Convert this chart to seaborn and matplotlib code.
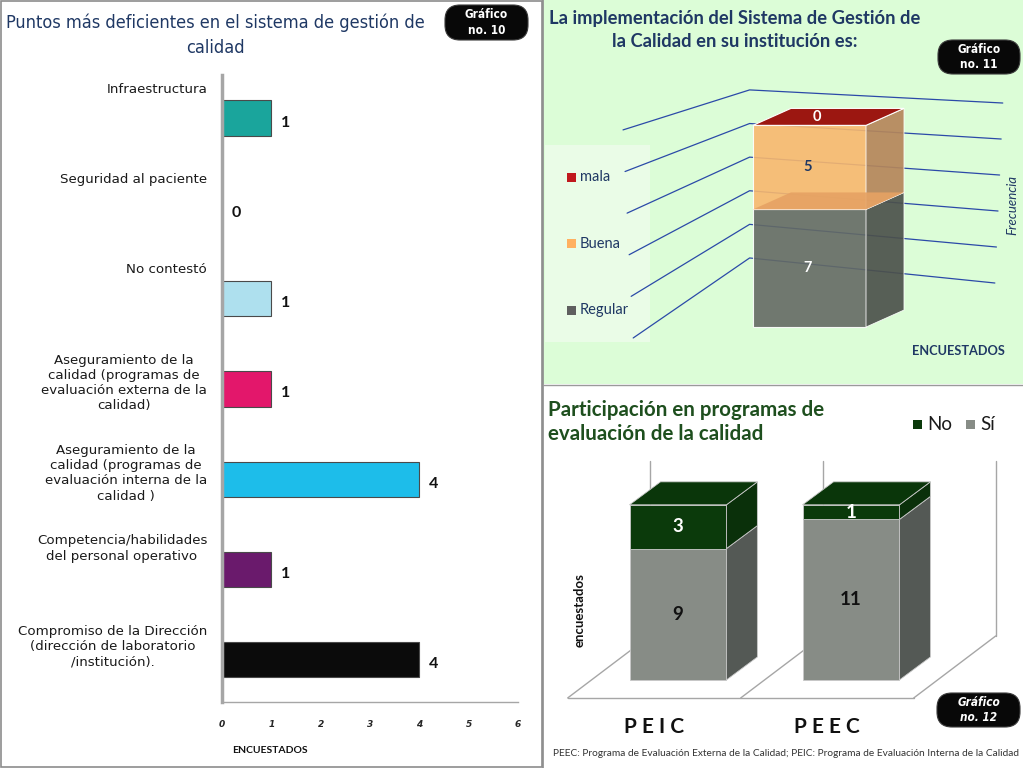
import matplotlib
matplotlib.use("Agg")
import matplotlib.pyplot as plt
from matplotlib.patches import Rectangle, FancyBboxPatch, Polygon
import seaborn as sns
import pandas as pd

# ---------------- data ----------------
g10_title = "Puntos más deficientes en el sistema de gestión de\ncalidad"
g10_categories = [
    "Infraestructura",
    "Seguridad al paciente",
    "No contestó",
    "Aseguramiento de la\ncalidad (programas de\nevaluación externa de la\ncalidad)",
    "Aseguramiento de la\ncalidad (programas de\nevaluación interna de la\ncalidad )",
    "Competencia/habilidades\ndel personal operativo",
    "Compromiso de la Dirección\n(dirección de laboratorio\n/institución).",
]
g10_values = [1, 0, 1, 1, 4, 1, 4]
g10_colors = ["#1AA59C", "#1F6F6A", "#AEE0EE", "#E3176B", "#1DBDEA", "#6A1A6C", "#0B0B0B"]
g10_xticks = [0, 1, 2, 3, 4, 5, 6]
g10_xlabel = "ENCUESTADOS"

g11_title = "La implementación del Sistema de Gestión de\nla Calidad en su institución es:"
g11_series = ["Regular", "Buena", "mala"]
g11_values = [7, 5, 0]
g11_front_colors = ["#646A64", "#F8B86E", "#9C1711"]
g11_side_colors = ["#4C514B", "#B5865A", "#7E130F"]
g11_legend_colors = ["#5F5F5F", "#FFB060", "#C0181D"]
g11_label_colors = ["#FFFFFF", "#1F3864", "#FFFFFF"]
g11_grid_levels = [2, 4, 6, 8, 10, 12]
g11_xlabel = "ENCUESTADOS"
g11_ylabel = "Frecuencia"

g12_title = "Participación en programas de\nevaluación de la calidad"
g12_categories = ["PEIC", "PEEC"]
g12_si = [9, 11]
g12_no = [3, 1]
g12_legend = ["No", "Sí"]
g12_legend_colors = ["#0B3A0B", "#878C86"]
g12_ylabel = "encuestados"
g12_wall_max = 12
g12_footer = ("PEEC: Programa de Evaluación Externa de la Calidad; "
              "PEIC: Programa de Evaluación Interna de la Calidad")

badges = ["Gráfico\nno. 10", "Gráfico\nno. 11", "Gráfico\nno. 12"]

# ---------------- setup ----------------
sns.set_theme(style="white")
plt.rcParams["font.family"] = ["Lato", "DejaVu Sans"]

W, H = 1023, 768
fig = plt.figure(figsize=(W / 100, H / 100), dpi=100)
fig.patch.set_facecolor("white")


def pax(x0, y0, x1, y1, z=1):
    a = fig.add_axes([x0 / W, 1 - y1 / H, (x1 - x0) / W, (y1 - y0) / H], zorder=z)
    a.patch.set_alpha(0)
    return a


# background canvas (pixel coordinates)
bg = fig.add_axes([0, 0, 1, 1], zorder=0)
bg.set_xlim(0, W)
bg.set_ylim(H, 0)
bg.axis("off")
bg.add_patch(Rectangle((1, 1), 541, 766, fc="white", ec="#8C8C8C", lw=1.2))
bg.add_patch(Rectangle((543, 0), 480, 384, fc="#DCFDD7", ec="none"))
bg.add_patch(Rectangle((545, 145), 105, 197, fc="#EAFCE7", ec="none"))
bg.plot([543, 543], [0, H], color="#8C8C8C", lw=1.2)
bg.plot([543, W], [384.5, 384.5], color="#9A9A9A", lw=1.0)

# overlay canvas for texts / badges
ov = fig.add_axes([0, 0, 1, 1], zorder=10)
ov.set_xlim(0, W)
ov.set_ylim(H, 0)
ov.axis("off")
ov.patch.set_alpha(0)

# ================= Gráfico 10 =================
ax1 = pax(222, 75, 518, 702)
df10 = pd.DataFrame({"cat": g10_categories, "val": g10_values})
sns.barplot(data=df10, x="val", y="cat", hue="cat", palette=g10_colors, orient="h",
            width=0.39, ax=ax1, legend=False, edgecolor="#4A4A4A", linewidth=0.8,
            saturation=1)
ax1.set_xlim(0, 6)
ax1.set_ylim(6.467, -0.476)
ax1.set_xticks(g10_xticks)
ax1.set_xticklabels([str(t) for t in g10_xticks], fontsize=6.5, fontweight="bold",
                    fontstyle="italic", family="DejaVu Sans")
ax1.set_yticks(range(len(g10_categories)))
ax1.set_yticklabels([])
ax1.tick_params(axis="both", length=0)
ax1.tick_params(axis="x", pad=13)
ax1.set_xlabel("")
ax1.set_ylabel("")
for s in ["top", "right"]:
    ax1.spines[s].set_visible(False)
ax1.spines["left"].set_color("#A6A6A6")
ax1.spines["left"].set_linewidth(2.5)
ax1.spines["bottom"].set_color("#A6A6A6")
ax1.spines["bottom"].set_linewidth(1.0)
for i, (cat, v) in enumerate(zip(g10_categories, g10_values)):
    ax1.text(-0.3, i - 0.39, cat, ha="right", va="top", multialignment="center",
             fontsize=9.6, family=["DejaVu Sans"], color="#1A1A1A", linespacing=1.22,
             clip_on=False)
    ax1.text(v + 0.2, i + 0.05, str(v), ha="left", va="center", fontsize=11.5,
             fontweight="bold", color="#111111", clip_on=False)
ax1.text(0.2, 7.0, g10_xlabel, ha="left", va="center", fontsize=7.5,
         fontweight="bold", color="#111111", clip_on=False)

ov.text(215, 35, g10_title, ha="center", va="center", fontsize=13,
        family=["DejaVu Sans"], fontstretch="condensed", color="#1F3864",
        linespacing=1.5)

# ================= Gráfico 11 =================
ax2 = pax(543, 0, 1023, 383)
ax2.set_xlim(-1.858, 2.389)
ax2.set_ylim(-3.33, 19.46)
ax2.axis("off")
dx11, dy11 = 0.336, 1.01
for v in g11_grid_levels:
    xs = [-1.06 - (v - 2) * 0.009, -0.03, 2.14 + (v - 2) * 0.007]
    ys = [-0.65 + (v - 2) * 1.238, v + 2.11, 2.62 + (v - 2) * 1.071]
    ax2.plot(xs, ys, color="#2B4AA8", lw=0.9, zorder=1)

bottom = 0
total = sum(g11_values)
for k, (name, v) in enumerate(zip(g11_series, g11_values)):
    if v > 0:
        ax2.bar(0.5, v, width=1, bottom=bottom, color=g11_front_colors[k],
                edgecolor="white", linewidth=0.8, alpha=0.9, zorder=3)
        ax2.add_patch(Polygon([(1, bottom), (1 + dx11, bottom + dy11),
                               (1 + dx11, bottom + v + dy11), (1, bottom + v)],
                              closed=True, fc=g11_side_colors[k], ec="white",
                              lw=0.6, alpha=0.92, zorder=3))
        ax2.text(0.48, bottom + v / 2, str(v), ha="center", va="center",
                 fontsize=10.5, fontweight="bold", color=g11_label_colors[k], zorder=6)
        if bottom + v < total:
            top = bottom + v
            ax2.add_patch(Polygon([(0, top), (dx11, top + dy11),
                                   (1 + dx11, top + dy11), (1, top)], closed=True,
                                  fc="#E6A263", ec="none", alpha=0.9, zorder=4))
    else:
        ax2.text(0.5 + dx11 / 2 - 0.1, total + dy11 / 2, str(v), ha="center",
                 va="center", fontsize=10.5, fontweight="bold",
                 color=g11_label_colors[k], zorder=6)
    bottom += v
ax2.add_patch(Polygon([(0, total), (dx11, total + dy11), (1 + dx11, total + dy11),
                       (1, total)], closed=True, fc=g11_front_colors[-1],
                      ec="white", lw=0.8, zorder=5))

ov.text(735, 30, g11_title, ha="center", va="center", fontsize=13.2,
        fontweight="bold", color="#1F3864", linespacing=1.38)
for k, name in enumerate(reversed(g11_series)):
    col = list(reversed(g11_legend_colors))[k]
    yk = 177 + k * 66.5
    ov.add_patch(Rectangle((567, yk - 4.5), 9, 9, fc=col, ec="none"))
    ov.text(580, yk, name, ha="left", va="center", fontsize=10.5, color="#1F3864")
ov.text(958, 351, g11_xlabel, ha="center", va="center", fontsize=9.2,
        fontweight="bold", color="#1F3864")
ov.text(1012, 205, g11_ylabel, ha="center", va="center", fontsize=9.5,
        fontstyle="italic", rotation=90, color="#1F3864")

# ================= Gráfico 12 =================
ax3 = pax(543, 386, 1023, 768)
ax3.set_xlim(-0.780, 1.994)
ax3.set_ylim(-6.03, 20.14)
ax3.axis("off")
sx, sy = 0.474, 4.25          # oblique shift per unit depth
tf, tb = -0.29, 0.71           # floor front / back depth
bw = 0.56
dx12, dy12 = 0.179, 1.575
n = len(g12_categories)
edges = [i - 0.5 for i in range(n + 1)]
gc = "#A6A6A6"
ax3.plot([edges[0] + tf * sx, edges[-1] + tf * sx], [tf * sy, tf * sy], color=gc, lw=1, zorder=1)
for e in edges:
    ax3.plot([e + tf * sx, e + tb * sx], [tf * sy, tb * sy], color=gc, lw=1, zorder=1)
    ax3.plot([e + tb * sx, e + tb * sx], [tb * sy, tb * sy + g12_wall_max], color=gc, lw=1, zorder=1)

seg_front = ["#878C86", "#0B3A0B"]
seg_side = ["#545955", "#0A300A"]
seg_lab = ["#111111", "#FFFFFF"]
for i, cat in enumerate(g12_categories):
    segs = [g12_si[i], g12_no[i]]
    b = 0
    for k, v in enumerate(segs):
        ax3.bar(i, v, width=bw, bottom=b, color=seg_front[k], edgecolor="#C8C8C8",
                linewidth=0.6, zorder=3)
        ax3.add_patch(Polygon([(i + bw / 2, b), (i + bw / 2 + dx12, b + dy12),
                               (i + bw / 2 + dx12, b + v + dy12), (i + bw / 2, b + v)],
                              closed=True, fc=seg_side[k], ec="#C8C8C8", lw=0.6, zorder=3))
        ax3.text(i, b + v / 2, str(v), ha="center", va="center", fontsize=13.5,
                 fontweight="bold", color=seg_lab[k], zorder=6)
        b += v
    ax3.add_patch(Polygon([(i - bw / 2, b), (i - bw / 2 + dx12, b + dy12),
                           (i + bw / 2 + dx12, b + dy12), (i + bw / 2, b)],
                          closed=True, fc="#0A360A", ec="#C8C8C8", lw=0.6, zorder=4))
    ax3.text(i + tf * sx, -3.22, " ".join(cat), ha="center", va="center",
             fontsize=15, fontweight="bold", color="#111111")

ov.text(548, 422, g12_title, ha="left", va="center", fontsize=14.8,
        fontweight="bold", color="#1E4F1E", linespacing=1.3)
lx = [913, 966]
for k, name in enumerate(g12_legend):
    ov.add_patch(Rectangle((lx[k], 420), 9, 9, fc=g12_legend_colors[k], ec="none"))
    ov.text(lx[k] + 14, 425, name, ha="left", va="center", fontsize=13.5, color="#1A1A1A")
ov.text(580, 610, g12_ylabel, ha="center", va="center", fontsize=9.5,
        fontweight="bold", rotation=90, color="#111111")
ov.text(553, 753, g12_footer, ha="left", va="center", fontsize=7.3, color="#333333")

# ================= badges =================
badge_boxes = [(445, 5, 83, 35, "normal"), (938, 40, 82, 34, "normal"),
               (937, 693, 83, 34, "italic")]
for txt, (bx, by, bwid, bh, st) in zip(badges, badge_boxes):
    ov.add_patch(FancyBboxPatch((bx, by), bwid, bh,
                                boxstyle="round,pad=0,rounding_size=15",
                                fc="#080808", ec="#3A3A3A", lw=0.8))
    ov.text(bx + bwid / 2, by + bh / 2, txt, ha="center", va="center",
            fontsize=8.5, fontweight="bold", fontstyle=st, color="white",
            family=["DejaVu Sans"], fontstretch="condensed", linespacing=1.2)

fig.savefig("out.png", dpi=100)
